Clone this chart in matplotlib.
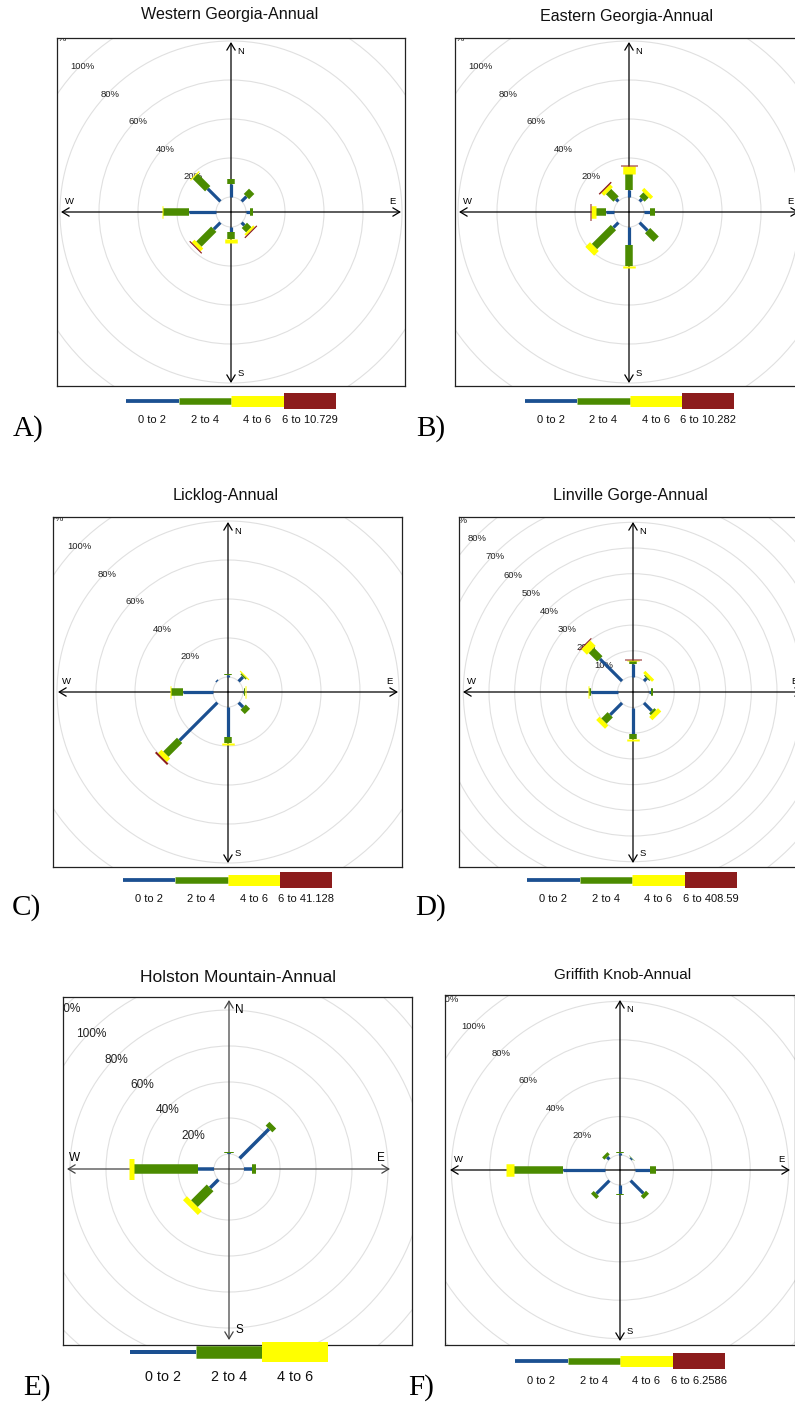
import matplotlib
matplotlib.use("Agg")
import matplotlib.pyplot as plt
from matplotlib.patches import Circle
import numpy as np

plt.rcParams['font.family'] = ['Liberation Sans', 'DejaVu Sans']

W, H, DPI = 795, 1403, 100

# ---------------- data ----------------
directions = ["N", "NE", "E", "SE", "S", "SW", "W", "NW"]
class_colors = ["#1b5091", "#4b8b00", "#ffff00", "#8c1c1c"]

# Western Georgia (percent of time, per speed class)
wga_0_2 = [6.8, 3.5, 2.2, 2.0, 2.6, 4.8, 13.7, 9.2]
wga_2_4 = [2.6, 3.8, 1.2, 3.2, 3.8, 10.8, 13.3, 9.0]
wga_4_6 = [0.0, 0.0, 0.0, 1.2, 1.7, 2.0, 0.6, 0.6]
wga_6_up = [0.0, 0.0, 0.0, 0.6, 0.0, 0.6, 0.0, 0.0]
wga_labels = ["0 to 2", "2 to 4", "4 to 6", "6 to 10.729"]

# Eastern Georgia
ega_0_2 = [3.4, 1.7, 2.9, 5.8, 9.4, 3.6, 3.9, 1.7]
ega_2_4 = [8.5, 3.0, 2.6, 6.2, 10.6, 13.8, 5.5, 5.5]
ega_4_6 = [3.8, 1.9, 0.0, 0.0, 0.8, 3.4, 2.2, 2.0]
ega_6_up = [0.5, 0.0, 0.0, 0.0, 0.0, 0.0, 0.5, 0.7]
ega_labels = ["0 to 2", "2 to 4", "4 to 6", "6 to 10.282"]

# Licklog
lick_0_2 = [0.9, 3.2, 0.5, 3.3, 15.3, 27.4, 15.3, 0.7]
lick_2_4 = [0.4, 0.8, 0.4, 3.1, 3.1, 10.0, 6.0, 0.0]
lick_4_6 = [0.0, 0.6, 0.6, 0.0, 0.9, 2.5, 0.7, 0.0]
lick_6_up = [0.0, 0.0, 0.0, 0.0, 0.0, 1.0, 0.0, 0.0]
lick_labels = ["0 to 2", "2 to 4", "4 to 6", "6 to 41.128"]

# Linville Gorge
lin_0_2 = [5.0, 1.5, 1.0, 4.3, 10.5, 6.5, 10.2, 12.2]
lin_2_4 = [1.0, 0.5, 0.7, 1.0, 1.7, 3.5, 0.7, 4.7]
lin_4_6 = [0.5, 1.2, 0.0, 1.8, 0.9, 1.8, 0.4, 3.1]
lin_6_up = [0.3, 0.0, 0.0, 0.0, 0.0, 0.0, 0.0, 0.4]
lin_labels = ["0 to 2", "2 to 4", "4 to 6", "6 to 408.59"]

# Holston Mountain
hol_0_2 = [0.4, 23.1, 4.3, 0.0, 0.0, 6.5, 8.7, 0.0]
hol_2_4 = [0.5, 3.0, 2.2, 0.0, 0.0, 12.4, 35.9, 0.0]
hol_4_6 = [0.0, 0.0, 0.0, 0.0, 0.0, 3.1, 2.4, 0.0]
hol_labels = ["0 to 2", "2 to 4", "4 to 6"]

# Griffith Knob
gri_0_2 = [1.0, 0.8, 7.8, 9.4, 4.9, 9.6, 21.7, 1.7]
gri_2_4 = [0.5, 0.2, 3.1, 2.2, 0.5, 2.0, 25.7, 1.7]
gri_4_6 = [0.0, 0.0, 0.0, 0.0, 0.0, 0.0, 4.2, 0.0]
gri_6_up = [0.0, 0.0, 0.0, 0.0, 0.0, 0.0, 0.0, 0.0]
gri_labels = ["0 to 2", "2 to 4", "4 to 6", "6 to 6.2586"]

# ---------------- layout ----------------
fig = plt.figure(figsize=(W / DPI, H / DPI), dpi=DPI)
PT = 72.0 / DPI  # px -> pt


def draw_rose(cfg, series, title):
    l, t, r, b = cfg["box"]
    cx, cy = cfg["center"]
    ax = fig.add_axes([l / W, 1 - b / H, (r - l) / W, (b - t) / H])
    ax.set_xlim(l - cx, r - cx)
    ax.set_ylim(cy - b, cy - t)
    ax.set_xticks([])
    ax.set_yticks([])
    for sp in ax.spines.values():
        sp.set_linewidth(0.9)
        sp.set_color("#222222")
    hole, s, step = cfg["hole"], cfg["scale"], cfg["step"]
    maxr = np.hypot(max(abs(l - cx), abs(r - cx)), max(abs(cy - b), abs(cy - t)))
    k = 1
    while True:
        rad = hole + k * step * s
        if rad > maxr + 10:
            break
        ax.add_patch(Circle((0, 0), rad, fill=False, ec="#e0e0e0", lw=0.8, zorder=1))
        ax.text(-rad * np.sqrt(0.5), rad * np.sqrt(0.5) - 3, f"{k * step}%",
                ha="center", va="center", fontsize=cfg["rfs"], color="#222222",
                clip_on=True, zorder=2)
        k += 1
    ax.add_patch(Circle((0, 0), hole, fill=False, ec="#e0e0e0", lw=0.8, zorder=1))

    # compass arrows
    aw, ae, an, as_ = cfg["arrows"]
    acol = cfg["acol"]
    for end in [(-aw, 0), (ae, 0), (0, an), (0, -as_)]:
        ax.annotate("", xy=end, xytext=(0, 0),
                    arrowprops=dict(arrowstyle="->,head_length=0.5,head_width=0.3",
                                    color=acol, lw=0.9, shrinkA=0, shrinkB=0,
                                    mutation_scale=10), zorder=3)
    cf = cfg["cfs"]
    ax.text(10, an - 10, "N", fontsize=cf, ha="center", va="center", zorder=3)
    ax.text(10, -as_ + 10, "S", fontsize=cf, ha="center", va="center", zorder=3)
    ax.text(-aw + 8, 11, "W", fontsize=cf, ha="center", va="center", zorder=3)
    ax.text(ae - 9, 11, "E", fontsize=cf, ha="center", va="center", zorder=3)

    # bars
    widths = cfg["widths"]
    for i, d in enumerate(directions):
        ang = np.deg2rad(45 * i)
        ux, uy = np.sin(ang), np.cos(ang)
        r0 = hole
        for c, vals in enumerate(series):
            v = vals[i]
            if v <= 0:
                continue
            r1 = r0 + v * s
            ax.plot([r0 * ux, r1 * ux], [r0 * uy, r1 * uy], color=class_colors[c],
                    lw=widths[c] * PT, solid_capstyle="butt", zorder=5 + c)
            r0 = r1

    tx, ty = cfg["title_pos"]
    fig.text(tx / W, 1 - ty / H, title, ha="center", va="center",
             fontsize=cfg["tfs"], color="#111111")


def draw_legend(x0, x1, yline, ylabel, labels, widths, fs):
    n = len(labels)
    ax = fig.add_axes([x0 / W, 1 - (yline + 32) / H, (x1 - x0) / W, 47 / H])
    ax.set_xlim(0, n)
    ax.set_ylim(-32, 15)
    ax.axis("off")
    for i, lab in enumerate(labels):
        ax.plot([i, i + 1], [0, 0], color=class_colors[i], lw=widths[i] * PT,
                solid_capstyle="butt")
        ax.text(i + 0.5, -(ylabel - yline), lab, ha="center", va="center",
                fontsize=fs, color="#111111")


def letter(x, y, s):
    fig.text(x / W, 1 - y / H, s, ha="center", va="center", fontsize=21,
             family=["Liberation Serif", "DejaVu Serif"])


std_w = [3.2, 7.5, 12.5, 17]
base = dict(hole=15, scale=1.95, step=20, arrows=(170, 170, 170, 171), acol="#000000",
            rfs=6.8, cfs=6.8, tfs=11.6, widths=std_w)

cfgA = dict(base, box=(57, 38, 405, 386), center=(231, 212), title_pos=(230, 15))
cfgB = dict(base, box=(455, 38, 804, 386), center=(629, 212), title_pos=(627, 16))
cfgC = dict(base, box=(53, 517, 402, 867), center=(228, 692), title_pos=(226, 495))
cfgD = dict(base, box=(459, 517, 808, 867), center=(633, 692), title_pos=(630, 495),
            hole=15.5, scale=2.57, step=10)
cfgE = dict(base, box=(63, 997, 412, 1345), center=(229, 1169), title_pos=(238, 978),
            scale=1.8, arrows=(162, 161, 169, 171), acol="#444444", rfs=8.6, cfs=8.5,
            tfs=12.6, widths=[3.5, 9.5, 21])
cfgF = dict(base, box=(445, 995, 795, 1345), center=(620, 1170), title_pos=(623, 975),
            scale=1.92, tfs=11)

draw_rose(cfgA, [wga_0_2, wga_2_4, wga_4_6, wga_6_up], "Western Georgia-Annual")
draw_rose(cfgB, [ega_0_2, ega_2_4, ega_4_6, ega_6_up], "Eastern Georgia-Annual")
draw_rose(cfgC, [lick_0_2, lick_2_4, lick_4_6, lick_6_up], "Licklog-Annual")
draw_rose(cfgD, [lin_0_2, lin_2_4, lin_4_6, lin_6_up], "Linville Gorge-Annual")
draw_rose(cfgE, [hol_0_2, hol_2_4, hol_4_6], "Holston Mountain-Annual")
draw_rose(cfgF, [gri_0_2, gri_2_4, gri_4_6, gri_6_up], "Griffith Knob-Annual")

leg_w = [3.8, 6.5, 11, 16]
draw_legend(126, 336, 401, 420, wga_labels, leg_w, 8)
draw_legend(525, 734, 401, 420, ega_labels, leg_w, 8)
draw_legend(123, 332, 880, 899, lick_labels, leg_w, 8)
draw_legend(527, 737, 880, 899, lin_labels, leg_w, 8)
draw_legend(130, 328, 1352, 1377, hol_labels, [4, 12.5, 20], 10.4)
draw_legend(515, 725, 1361, 1381, gri_labels, leg_w, 8)

letter(28, 429, "A)")
letter(431, 429, "B)")
letter(26, 908, "C)")
letter(431, 908, "D)")
letter(37, 1388, "E)")
letter(421, 1388, "F)")

fig.savefig("out.png", dpi=DPI)
